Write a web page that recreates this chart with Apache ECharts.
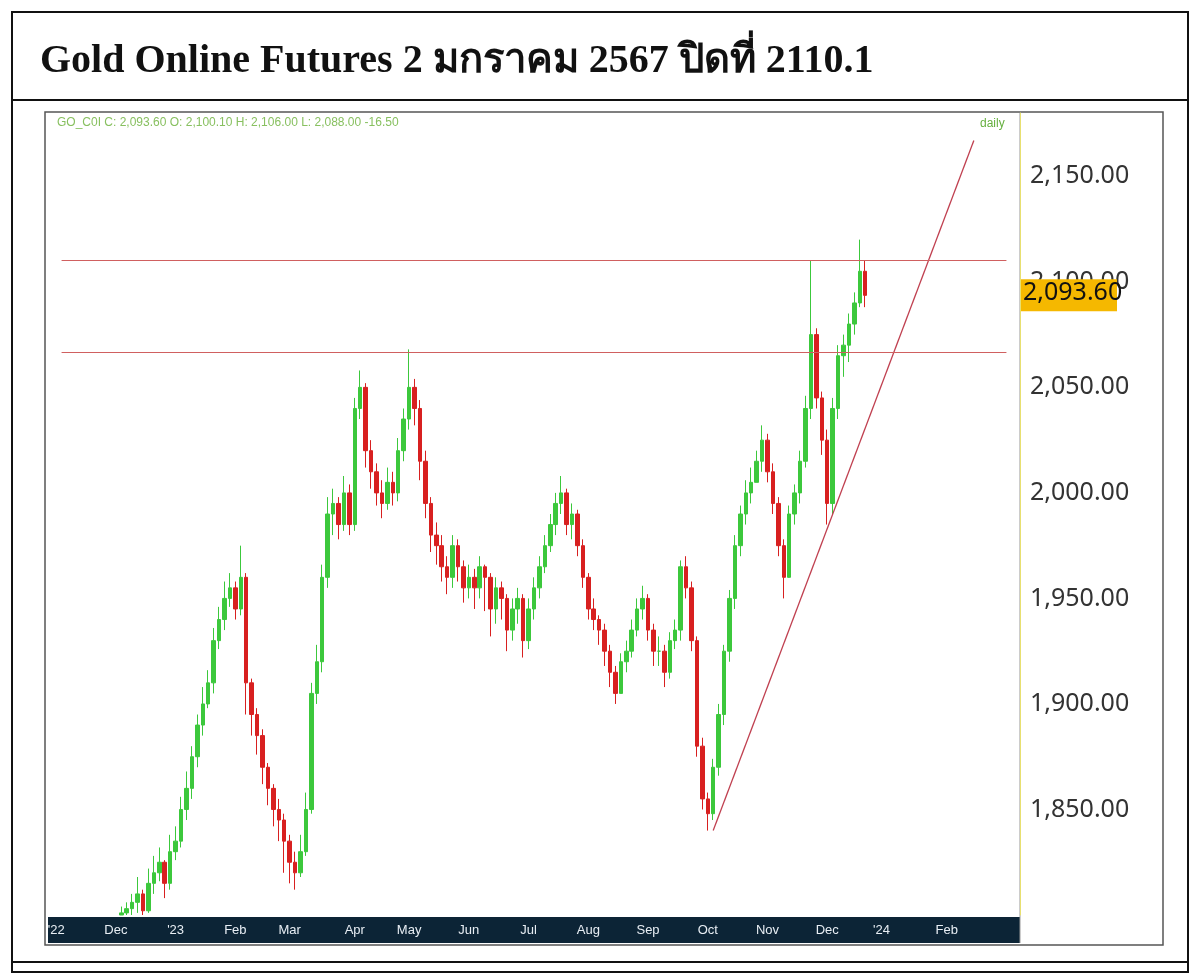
<!DOCTYPE html>
<html><head><meta charset="utf-8">
<script src="https://cdn.jsdelivr.net/npm/echarts@6/dist/echarts.min.js"></script>
<style>html,body{margin:0;padding:0;background:#fff}#c{width:1200px;height:976px}</style>
</head><body><div id="c"></div>
<script>
const titleText = "Gold Online Futures 2 มกราคม 2567 ปิดที่ 2110.1";
const legendText = "GO_C0I C: 2,093.60 O: 2,100.10 H: 2,106.00 L: 2,088.00 -16.50";
const firstDataDate = "2022-12-02";
const closes = [
1801,1803,1806,1810,1802,1815,1820,1825,1815,1830,1835,
1850,1860,1875,1890,1900,1910,1930,1940,1950,1955,1945,
1960,1910,1895,1885,1870,1860,1850,1845,1835,1825,
1820,1830,1850,1905,1920,1960,1990,1995,1985,2000,1985,
2040,2050,2020,2010,2000,1995,2005,2000,2020,2035,
2050,2040,2015,1995,1980,1975,1965,1960,1975,1965,1955,
1960,1955,1965,1960,1945,1955,1950,1935,1945,1950,
1930,1945,1955,1965,1975,1985,1995,2000,1985,1990,1975,
1960,1945,1940,1935,1925,1915,1905,1920,1925,1935,
1945,1950,1935,1925,1925,1915,1930,1935,1965,1955,1930,
1880,1855,1848,1870,1895,1925,1950,1975,1990,2000,2005,
2015,2025,2010,1995,1975,1960,1990,2000,2015,2040,
2075,2045,2025,1995,2040,2065,2070,2080,2090,2105,2093.6];
const highs = [
1804,1806,1810,1818,1812,1822,1828,1832,1826,1838,1842,
1856,1868,1880,1895,1908,1916,1936,1946,1958,1962,1958,
1975,1962,1912,1898,1888,1872,1862,1855,1848,1838,
1830,1838,1858,1910,1928,1966,1998,2002,1998,2008,2004,
2045,2058,2052,2025,2014,2006,2012,2010,2026,2040,
2068,2054,2044,2020,1998,1986,1980,1970,1980,1978,1968,
1966,1964,1970,1966,1962,1960,1958,1952,1950,1955,
1952,1950,1960,1970,1980,1990,2000,2008,2002,1995,1992,
1978,1962,1950,1942,1938,1928,1918,1924,1930,1940,
1950,1956,1952,1938,1932,1928,1934,1940,1968,1970,1958,
1932,1884,1858,1874,1900,1928,1954,1980,1994,2006,2012,
2020,2032,2028,2014,1998,1978,1994,2004,2020,2046,
2110,2078,2048,2030,2045,2070,2075,2085,2095,2120,2110];
const lows = [
1800,1800,1800,1801,1800,1801,1810,1816,1808,1812,1826,
1832,1845,1855,1870,1885,1898,1905,1926,1935,1946,1940,
1942,1895,1885,1876,1862,1852,1842,1835,1820,1815,
1812,1818,1828,1848,1900,1915,1955,1980,1978,1982,1980,
1982,2035,2012,2002,1994,1988,1992,1994,1996,2015,
2030,2032,2006,1988,1972,1966,1958,1952,1955,1958,1948,
1950,1945,1950,1944,1932,1938,1940,1925,1930,1938,
1922,1926,1940,1950,1962,1972,1980,1990,1980,1978,1970,
1955,1940,1935,1928,1918,1908,1900,1905,1915,1922,
1932,1940,1930,1918,1918,1908,1912,1926,1930,1950,1925,
1875,1850,1840,1845,1866,1890,1920,1945,1970,1985,1995,
2005,2010,2005,1990,1970,1950,1970,1985,1995,2012,
2035,2040,2018,1985,1990,2035,2055,2062,2075,2088,2088];
const firstOpen = 1800;
const levelLines = [2110, 2066.5];
const trendStart = ["2023-10-05", 1840];
const trendEnd = ["2024-02-15", 2167];
const lastPrice = 2093.6;
const monthNames = ["'","Feb","Mar","Apr","May","Jun","Jul","Aug","Sep","Oct","Nov","Dec"];

function fmt(d){return d.toISOString().slice(0,10);}
const cats=[];{let d=new Date(Date.UTC(2022,9,28)),k=0;const end=new Date(Date.UTC(2024,2,12));
 while(d<=end){const w=d.getUTCDay(); if(w!==0&&w!==6){ if(k%2===0) cats.push(fmt(d)); k++; } d=new Date(d.getTime()+86400000);} }
const startIdx = cats.findIndex(c=>c>=firstDataDate);
const ohlc = cats.map(()=>'-');
closes.forEach((c,i)=>{const o=i===0?firstOpen:closes[i-1]; ohlc[startIdx+i]=[o,c,lows[i],highs[i]];});
function idxOf(ds){return cats.findIndex(c=>c>=ds);}
const monthStart = new Set(); cats.forEach((c,i)=>{ if(i>0 && c<'2024-03' && c.slice(5,7)!==cats[i-1].slice(5,7)) monthStart.add(i); });

const chart = echarts.init(document.getElementById('c'));
chart.setOption({
 animation:false,
 backgroundColor:'#fff',
 grid:{left:48,right:180,top:113,bottom:61},
 xAxis:{type:'category',data:cats,boundaryGap:true,
  axisLine:{show:false},axisTick:{show:false},splitLine:{show:false},
  axisLabel:{interval:(i)=>monthStart.has(i),margin:9,color:'#e8eef4',fontSize:13,fontFamily:'Liberation Sans Narrow, Liberation Sans, sans-serif',
   formatter:(v)=>{const m=+v.slice(5,7); if(m===1) return "'"+v.slice(2,4); if(m===11&&v.startsWith('2022')) return "'22"; return monthNames[m-1];}}},
 yAxis:{type:'value',position:'right',min:1800,max:2180,interval:50,
  splitLine:{show:false},axisLine:{show:true,lineStyle:{color:'#e8e070'}},axisTick:{show:false},
  axisLabel:{margin:10,color:'#333',fontSize:25,fontFamily:'Noto Sans, sans-serif',showMinLabel:false,showMaxLabel:false,
   formatter:(v)=>v.toLocaleString('en-US',{minimumFractionDigits:2,maximumFractionDigits:2})}},
 series:[
  {type:'candlestick',data:ohlc,barWidth:4,
   itemStyle:{color:'#3cc83c',color0:'#d82020',borderColor:'#3cc83c',borderColor0:'#d82020',borderWidth:1},
   markLine:{symbol:'none',silent:true,label:{show:false},lineStyle:{color:'#d06060',width:1.2,type:'solid'},
    data:levelLines.map(v=>[{coord:[2,v]},{coord:[cats.length-3,v]}])}},
  {type:'line',data:[[idxOf(trendStart[0]),trendStart[1]],[idxOf(trendEnd[0]),trendEnd[1]]],symbol:'none',
   lineStyle:{color:'#c04050',width:1.3},silent:true}
 ]
});
const py = chart.convertToPixel({yAxisIndex:0}, lastPrice);
chart.setOption({graphic:[
  {id:'band',type:'rect',shape:{x:48,y:917,width:972,height:26},style:{fill:'#0c2436'},z:-1},
  {id:'panel',type:'rect',shape:{x:45,y:112,width:1118,height:833},style:{fill:'none',stroke:'#555',lineWidth:1.5},z:-2},
  {id:'outer',type:'rect',shape:{x:12,y:12,width:1176,height:960},style:{fill:'none',stroke:'#111',lineWidth:2},z:-2},
  {id:'l1',type:'line',shape:{x1:12,y1:100,x2:1188,y2:100},style:{stroke:'#111',lineWidth:2}},
  {id:'l2',type:'line',shape:{x1:12,y1:962,x2:1188,y2:962},style:{stroke:'#111',lineWidth:2}},
  {id:'l3',type:'line',shape:{x1:1020,y1:113,x2:1020,y2:943},style:{stroke:'#999',lineWidth:1}},
  {id:'title',type:'text',x:40,y:42,style:{text:titleText,font:'bold 40px "Liberation Serif", "Noto Serif", "Noto Sans", serif',fill:'#111'}},
  {id:'leg',type:'text',x:57,y:117,style:{text:legendText,font:'12px "Liberation Sans Narrow", sans-serif',fill:'#88c060'}},
  {id:'daily',type:'text',x:980,y:118,style:{text:'daily',font:'12px sans-serif',fill:'#66b040'}},
  {id:'tagbg',type:'rect',shape:{x:1021,y:py-16,width:96,height:32},style:{fill:'#f5b800'},z:10},
  {id:'tagtx',type:'text',x:1023,y:py-15,style:{text:'2,093.60',font:'25px "Noto Sans", sans-serif',fill:'#111'},z:11}
]});
</script></body></html>
